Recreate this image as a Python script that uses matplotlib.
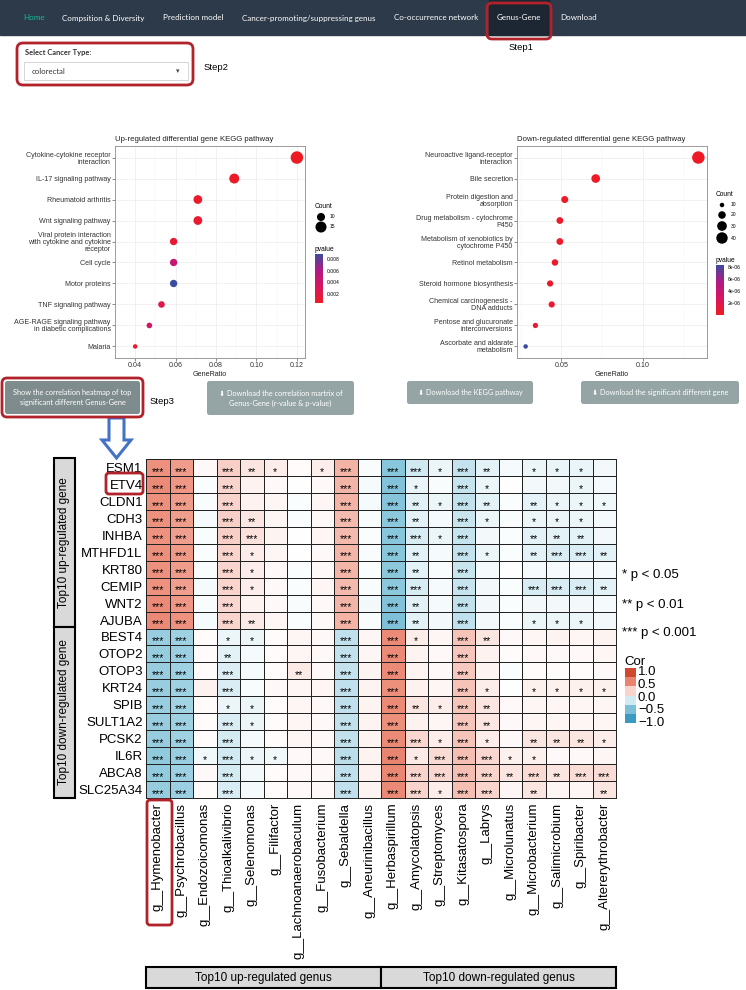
import numpy as np
import matplotlib
matplotlib.use("Agg")
import matplotlib.pyplot as plt
from matplotlib.colors import LinearSegmentedColormap
from matplotlib.patches import Rectangle, FancyBboxPatch, Polygon

plt.rcParams['font.family'] = ['Liberation Sans', 'DejaVu Sans']

W, H = 746, 990

# ---------------- KEGG dot plots ----------------
up_terms = ["Cytokine-cytokine receptor\ninteraction", "IL-17 signaling pathway",
            "Rheumatoid arthritis", "Wnt signaling pathway",
            "Viral protein interaction\nwith cytokine and cytokine\nreceptor",
            "Cell cycle", "Motor proteins", "TNF signaling pathway",
            "AGE-RAGE signaling pathway\nin diabetic complications", "Malaria"]
up_ratio = [0.120, 0.089, 0.071, 0.071, 0.059, 0.059, 0.059, 0.053, 0.047, 0.040]
up_count = [18, 13, 11, 11, 9, 9, 9, 8, 7, 6]
up_pvalue = [0.0004, 0.0006, 0.0008, 0.0009, 0.0012, 0.0045, 0.0089, 0.0022, 0.0037, 0.0010]
up_ticks = [0.04, 0.06, 0.08, 0.10, 0.12]
up_size_breaks = [10, 15]
up_p_ticks = [0.002, 0.004, 0.006, 0.008]

down_terms = ["Neuroactive ligand-receptor\ninteraction", "Bile secretion",
              "Protein digestion and\nabsorption", "Drug metabolism - cytochrome\nP450",
              "Metabolism of xenobiotics by\ncytochrome P450", "Retinol metabolism",
              "Steroid hormone biosynthesis", "Chemical carcinogenesis -\nDNA adducts",
              "Pentose and glucuronate\ninterconversions", "Ascorbate and aldarate\nmetabolism"]
down_ratio = [0.134, 0.071, 0.052, 0.049, 0.049, 0.046, 0.043, 0.044, 0.034, 0.028]
down_count = [47, 25, 18, 17, 17, 16, 15, 15, 12, 10]
down_pvalue = [3e-8, 1e-7, 2e-7, 3e-7, 3e-7, 4e-7, 5e-7, 6e-7, 8e-7, 8.3e-6]
down_ticks = [0.05, 0.10]
down_size_breaks = [10, 20, 30, 40]
down_p_ticks = [2e-6, 4e-6, 6e-6, 8e-6]

# ---------------- correlation heatmap ----------------
genes = ["ESM1", "ETV4", "CLDN1", "CDH3", "INHBA", "MTHFD1L", "KRT80", "CEMIP", "WNT2", "AJUBA",
         "BEST4", "OTOP2", "OTOP3", "KRT24", "SPIB", "SULT1A2", "PCSK2", "IL6R", "ABCA8", "SLC25A34"]
genera = ["g__Hymenobacter", "g__Psychrobacillus", "g__Endozoicomonas", "g__Thioalkalivibrio",
          "g__Selenomonas", "g__Filifactor", "g__Lachnoanaerobaculum", "g__Fusobacterium",
          "g__Sebaldella", "g__Aneurinibacillus", "g__Herbaspirillum", "g__Amycolatopsis",
          "g__Streptomyces", "g__Kitasatospora", "g__Labrys", "g__Microlunatus",
          "g__Microbacterium", "g__Salimicrobium", "g__Spiribacter", "g__Altererythrobacter"]

cor = [
    [0.52, 0.46, 0.03, 0.22, 0.12, 0.08, 0.02, 0.08, 0.35, -0.03, -0.52, -0.20, -0.08, -0.26, -0.12, -0.04, -0.08, -0.09, -0.09, -0.05],
    [0.55, 0.48, -0.02, 0.20, 0.06, 0.03, 0.00, 0.03, 0.34, -0.04, -0.55, -0.09, -0.03, -0.25, -0.08, 0.00, -0.05, -0.05, -0.08, -0.04],
    [0.53, 0.46, -0.03, 0.20, 0.06, 0.04, -0.02, 0.04, 0.35, -0.04, -0.54, -0.13, -0.08, -0.27, -0.12, -0.02, -0.11, -0.08, -0.08, -0.07],
    [0.52, 0.45, -0.04, 0.22, 0.11, 0.04, -0.02, 0.03, 0.32, -0.03, -0.50, -0.12, -0.04, -0.24, -0.08, -0.03, -0.08, -0.08, -0.08, -0.04],
    [0.50, 0.44, -0.03, 0.22, 0.14, 0.05, 0.00, 0.04, 0.32, -0.02, -0.52, -0.17, -0.08, -0.25, -0.05, -0.02, -0.12, -0.12, -0.12, -0.05],
    [0.53, 0.47, -0.02, 0.20, 0.08, 0.04, 0.00, 0.03, 0.34, -0.03, -0.52, -0.12, -0.04, -0.26, -0.08, -0.02, -0.12, -0.16, -0.16, -0.12],
    [0.52, 0.46, -0.03, 0.20, 0.08, 0.03, -0.02, 0.03, 0.34, -0.02, -0.50, -0.12, -0.03, -0.24, -0.04, 0.00, -0.04, -0.04, -0.04, -0.04],
    [0.50, 0.44, -0.04, 0.20, 0.08, 0.03, -0.02, 0.04, 0.32, -0.03, -0.50, -0.17, -0.04, -0.25, -0.05, -0.02, -0.17, -0.17, -0.17, -0.12],
    [0.55, 0.48, -0.03, 0.18, 0.05, 0.03, -0.03, 0.03, 0.34, -0.05, -0.55, -0.13, -0.04, -0.27, -0.05, -0.02, -0.05, -0.05, -0.05, -0.04],
    [0.56, 0.50, -0.04, 0.20, 0.10, 0.04, -0.02, 0.03, 0.35, -0.03, -0.58, -0.12, -0.05, -0.28, -0.05, -0.02, -0.08, -0.08, -0.08, -0.05],
    [-0.45, -0.42, 0.02, -0.08, -0.08, 0.02, 0.04, 0.03, -0.28, 0.04, 0.55, 0.08, 0.04, 0.28, 0.12, 0.03, 0.04, 0.05, 0.04, 0.05],
    [-0.46, -0.43, 0.02, -0.12, -0.04, 0.02, 0.04, 0.03, -0.27, 0.04, 0.55, 0.05, 0.03, 0.26, 0.06, 0.02, 0.03, 0.03, 0.03, 0.04],
    [-0.45, -0.42, 0.02, -0.15, -0.04, 0.02, 0.10, 0.03, -0.26, 0.05, 0.55, 0.05, 0.03, 0.25, 0.05, -0.02, 0.02, 0.02, 0.02, 0.03],
    [-0.45, -0.42, 0.06, -0.16, -0.03, 0.03, 0.04, 0.04, -0.28, 0.05, 0.53, 0.06, 0.04, 0.28, 0.08, 0.00, 0.07, 0.07, 0.07, 0.07],
    [-0.44, -0.40, 0.02, -0.08, -0.08, 0.02, 0.04, 0.03, -0.28, 0.05, 0.55, 0.12, 0.08, 0.27, 0.12, 0.03, 0.04, 0.04, 0.04, 0.04],
    [-0.45, -0.42, 0.02, -0.16, -0.08, 0.02, 0.04, 0.03, -0.27, 0.05, 0.53, 0.06, 0.04, 0.26, 0.11, 0.03, 0.04, 0.04, 0.04, 0.04],
    [-0.45, -0.42, 0.02, -0.18, -0.04, 0.02, 0.04, 0.03, -0.27, 0.05, 0.55, 0.18, 0.08, 0.28, 0.08, 0.03, 0.12, 0.12, 0.12, 0.08],
    [-0.48, -0.44, -0.07, -0.20, -0.08, -0.07, 0.03, 0.03, -0.30, 0.05, 0.60, 0.10, 0.17, 0.30, 0.18, 0.07, 0.07, 0.03, 0.03, 0.04],
    [-0.47, -0.43, 0.03, -0.18, -0.05, 0.02, 0.03, 0.03, -0.28, 0.06, 0.58, 0.20, 0.18, 0.30, 0.20, 0.12, 0.17, 0.12, 0.16, 0.16],
    [-0.46, -0.43, 0.02, -0.17, -0.04, 0.02, 0.03, 0.03, -0.28, 0.05, 0.57, 0.20, 0.08, 0.30, 0.20, 0.04, 0.12, 0.04, 0.04, 0.12],
]

# significance per cell, "-" = not significant
stars = [
    "*** *** - *** ** * - * *** - *** *** * *** ** - * * * -",
    "*** *** - *** - - - - *** - *** * - *** * - - - * -",
    "*** *** - *** - - - - *** - *** ** * *** ** - ** * * *",
    "*** *** - *** ** - - - *** - *** ** - *** * - * * * -",
    "*** *** - *** *** - - - *** - *** *** * *** - - ** ** ** -",
    "*** *** - *** * - - - *** - *** ** - *** * - ** *** *** **",
    "*** *** - *** * - - - *** - *** ** - *** - - - - - -",
    "*** *** - *** * - - - *** - *** *** - *** - - *** *** *** **",
    "*** *** - *** - - - - *** - *** ** - *** - - - - - -",
    "*** *** - *** ** - - - *** - *** ** - *** - - * * * -",
    "*** *** - * * - - - *** - *** * - *** ** - - - - -",
    "*** *** - ** - - - - *** - *** - - *** - - - - - -",
    "*** *** - *** - - ** - *** - *** - - *** - - - - - -",
    "*** *** - *** - - - - *** - *** - - *** * - * * * *",
    "*** *** - * * - - - *** - *** ** * *** ** - - - - -",
    "*** *** - *** * - - - *** - *** - - *** ** - - - - -",
    "*** *** - *** - - - - *** - *** *** * *** * - ** ** ** *",
    "*** *** * *** * * - - *** - *** * *** *** *** * * - - -",
    "*** *** - *** - - - - *** - *** *** *** *** *** ** *** ** *** ***",
    "*** *** - *** - - - - *** - *** *** * *** *** - ** - - **",
]

cor_legend = [1.0, 0.5, 0.0, -0.5, -1.0]

# ---------------- figure ----------------
fig = plt.figure(figsize=(W / 100, H / 100), dpi=100)
fig.patch.set_facecolor("white")


def pax(x0, y0, x1, y1):
    return fig.add_axes([x0 / W, 1 - y1 / H, (x1 - x0) / W, (y1 - y0) / H])


pcmap = LinearSegmentedColormap.from_list("pv", ["#EE1B24", "#D8155F", "#B01A86", "#3C4B9F"])
ccmap = LinearSegmentedColormap.from_list(
    "cor", [(0, "#3A9AC2"), (0.25, "#8CC8DC"), (0.5, "#FFFFFF"), (0.75, "#EE9380"), (1, "#D0492F")])


def dot_area(c, cmin, cmax, dmin=4.5, dmax=12.5):
    frac = (np.asarray(c, float) - cmin) / (cmax - cmin)
    d = np.sqrt(dmin ** 2 + frac * (dmax ** 2 - dmin ** 2))
    return (d * 0.72) ** 2


def dotplot(box, terms, ratio, count, pval, ticks, title):
    ax = pax(*box)
    n = len(terms)
    ypos = np.arange(n)[::-1]
    sc = ax.scatter(ratio, ypos, s=dot_area(count, min(count), max(count)), c=pval,
                    cmap=pcmap, edgecolors="none", zorder=3)
    lo, hi = min(ratio), max(ratio)
    pad = 0.05 * (hi - lo)
    ax.set_xlim(lo - pad, hi + pad)
    ax.set_ylim(-0.55, n - 0.45)
    ax.set_yticks(ypos)
    ax.set_yticklabels(terms, linespacing=1.0)
    for lbl in ax.get_yticklabels():
        lbl.set_multialignment("right")
    ax.set_xticks(ticks)
    step = ticks[1] - ticks[0]
    ax.set_xticks(np.arange(ticks[0] - step / 2, hi + pad, step), minor=True)
    ax.set_xticklabels([f"{t:.2f}" for t in ticks])
    ax.tick_params(which="major", length=2, width=0.4, color="#333333", pad=1,
                   labelsize=5.1, labelcolor="#333333")
    ax.tick_params(which="minor", length=0)
    ax.grid(which="major", color="#EBEBEB", lw=0.5)
    ax.grid(which="minor", axis="x", color="#F3F3F3", lw=0.3)
    ax.set_axisbelow(True)
    for sp in ax.spines.values():
        sp.set_color("#8C8C8C")
        sp.set_linewidth(0.6)
    ax.set_xlabel("GeneRatio", fontsize=5.1, labelpad=1.5, color="#222222")
    ax.set_title(title, loc="left", fontsize=5.6, pad=3.5, color="#222222")
    return sc


sc_up = dotplot((115, 146, 305, 358), up_terms, up_ratio, up_count, up_pvalue, up_ticks,
                "Up-regulated differential gene KEGG pathway")
sc_dn = dotplot((517, 146, 707, 358), down_terms, down_ratio, down_count, down_pvalue, down_ticks,
                "Down-regulated differential gene KEGG pathway")

# colorbars
for sc, box, ticks, fmt in [(sc_up, (315, 254, 323, 303), up_p_ticks, "{:.3f}"),
                            (sc_dn, (716, 265, 724, 315), down_p_ticks, "{:.0e}")]:
    cax = pax(*box)
    cb = fig.colorbar(sc, cax=cax, ticks=ticks)
    cb.outline.set_visible(False)
    cb.ax.set_yticklabels([fmt.format(t) for t in ticks])
    cb.ax.tick_params(length=1.5, width=0.4, color="white", labelsize=3.6, pad=1.5)
    cax.set_title("pvalue", fontsize=4.8, loc="left", pad=2)

# heatmap
hm = pax(146, 459, 616, 798)
vals = np.array(cor)
hm.pcolormesh(vals, cmap=ccmap, vmin=-1, vmax=1, edgecolors="#222222", linewidth=0.7)
hm.set_xlim(0, len(genera))
hm.set_ylim(len(genes), 0)
hm.set_yticks(np.arange(len(genes)) + 0.5)
hm.set_yticklabels(genes, fontsize=9.5)
hm.set_xticks(np.arange(len(genera)) + 0.5)
hm.set_xticklabels(genera, fontsize=9.5, rotation=90, va="top")
hm.tick_params(length=0, pad=2.5)
hm.tick_params(axis="x", pad=3.5)
for sp in hm.spines.values():
    sp.set_linewidth(0.7)
    sp.set_color("#222222")
for i, row in enumerate(stars):
    for j, s in enumerate(row.split()):
        if s != "-":
            hm.text(j + 0.5, i + 0.75, s, ha="center", va="center", fontsize=7.6)

# ---------------- web page overlay ----------------
ov = fig.add_axes([0, 0, 1, 1])
ov.set_xlim(0, W)
ov.set_ylim(H, 0)
ov.axis("off")
ov.patch.set_alpha(0)
red = "#B1232B"
lato = ["Lato", "DejaVu Sans"]

ov.add_patch(Rectangle((0, 0), W, 35, color="#2C3A49", zorder=1))
ov.add_patch(Rectangle((489, 0), 60, 35, color="#1C2733", zorder=1))
nav = [("Home", 23, "#18BC9C"), ("Compsition & Diversity", 62, "white"),
       ("Prediction model", 163, "white"), ("Cancer-promoting/suppressing genus", 242, "white"),
       ("Co-occurrence network", 394, "white"), ("Genus-Gene", 497, "white"),
       ("Download", 560, "white")]
for txt, x, col in nav:
    ov.text(x, 18, txt, color=col, fontsize=5.75, family=lato, va="center", zorder=2)
ov.add_patch(FancyBboxPatch((487, 3), 64, 36, boxstyle="round,pad=0,rounding_size=5",
                            fc="none", ec=red, lw=2, zorder=3))
ov.text(509, 48, "Step1", fontsize=6.8, va="center")

# select input
ov.add_patch(FancyBboxPatch((17, 43), 176, 42, boxstyle="round,pad=0,rounding_size=6",
                            fc="none", ec=red, lw=2))
ov.text(25, 53, "Select Cancer Type:", fontsize=5.4, family=lato, fontweight="bold",
        color="#333333", va="center")
ov.add_patch(Rectangle((24, 62), 164, 18, fc="white", ec="#CFCFCF", lw=0.6))
ov.text(32, 71, "colorectal", fontsize=5.6, family=lato, color="#333333", va="center")
ov.text(178, 71, "\u25be", fontsize=5, family=["DejaVu Sans"], color="#444444",
        va="center", ha="center")
ov.text(204, 67, "Step2", fontsize=6.8, va="center")

# buttons
ov.add_patch(FancyBboxPatch((2, 378), 141, 39, boxstyle="round,pad=0,rounding_size=5",
                            fc="none", ec=red, lw=2, zorder=3))
buttons = [((5, 381, 140, 414), "#7F8C8D",
            "Show the correlation heatmap of top\nsignificant different Genus-Gene"),
           ((207, 381, 354, 415), "#95A5A6",
            "\u2b07 Download the correlation martrix of\nGenus-Gene (r-value & p-value)"),
           ((407, 381, 533, 404), "#95A5A6", "\u2b07 Download the KEGG pathway"),
           ((581, 381, 739, 404), "#95A5A6", "\u2b07 Download the significant different gene")]
for (x0, y0, x1, y1), col, txt in buttons:
    ov.add_patch(FancyBboxPatch((x0, y0), x1 - x0, y1 - y0,
                                boxstyle="round,pad=0,rounding_size=2.5", fc=col, ec="none"))
    ov.text((x0 + x1) / 2, (y0 + y1) / 2, txt, color="white", fontsize=5.3, family=lato,
            ha="center", va="center", linespacing=1.5)
ov.text(150, 402, "Step3", fontsize=6.8, va="center")

# blue arrow
ov.add_patch(Polygon([(109, 418), (124, 418), (124, 440), (131, 440), (116.5, 458),
                      (102, 440), (109, 440)], closed=True, fc="white", ec="#4472C4", lw=2.2))

# count legends
for x, ytitle, ys, breaks, counts in [(315, 206, [217, 227], up_size_breaks, up_count),
                                      (716, 194, [205, 215, 226, 238], down_size_breaks, down_count)]:
    ov.text(x, ytitle, "Count", fontsize=4.8, va="center")
    ov.scatter([x + 6] * len(breaks), ys, s=dot_area(breaks, min(counts), max(counts)),
               c="black", edgecolors="none")
    for y, b in zip(ys, breaks):
        ov.text(x + 15, y, str(b), fontsize=3.6, va="center")

# side / bottom group boxes
for y0, y1, txt in [(458, 627, "Top10 up-regulated gene"), (627, 798, "Top10 down-regulated gene")]:
    ov.add_patch(Rectangle((54, y0), 21, y1 - y0, fc="#D9D9D9", ec="black", lw=1.5))
    ov.text(64.5, (y0 + y1) / 2, txt, rotation=90, fontsize=8.5, ha="center", va="center")
for x0, x1, txt in [(146, 381, "Top10 up-regulated genus"), (381, 616, "Top10 down-regulated genus")]:
    ov.add_patch(Rectangle((x0, 967), x1 - x0, 21, fc="#D9D9D9", ec="black", lw=1.5))
    ov.text((x0 + x1) / 2, 977.5, txt, fontsize=8.5, ha="center", va="center")

# highlight boxes
ov.add_patch(FancyBboxPatch((106, 473), 37, 21, boxstyle="round,pad=0,rounding_size=3",
                            fc="none", ec=red, lw=2))
ov.add_patch(FancyBboxPatch((147, 800), 25, 125, boxstyle="round,pad=0,rounding_size=3",
                            fc="none", ec=red, lw=2))

# significance legend
for y, txt in [(575, "* p < 0.05"), (605, "** p < 0.01"), (633, "*** p < 0.001")]:
    ov.text(622, y, txt, fontsize=9.5, va="center")

# Cor legend
ov.text(624, 662, "Cor", fontsize=9.5, va="center")
blocks = np.linspace(1, -1, 6)
bh = (723 - 668) / len(blocks)
for k, v in enumerate(blocks):
    ov.add_patch(Rectangle((625, 668 + k * bh), 11, bh, color=ccmap((v + 1) / 2), lw=0))
for k, v in enumerate(cor_legend):
    ov.text(638, 672 + k * 12.8, f"{v:.1f}".replace("-", "\u2212"), fontsize=9.5, va="center")

fig.savefig("out.png", dpi=100)
